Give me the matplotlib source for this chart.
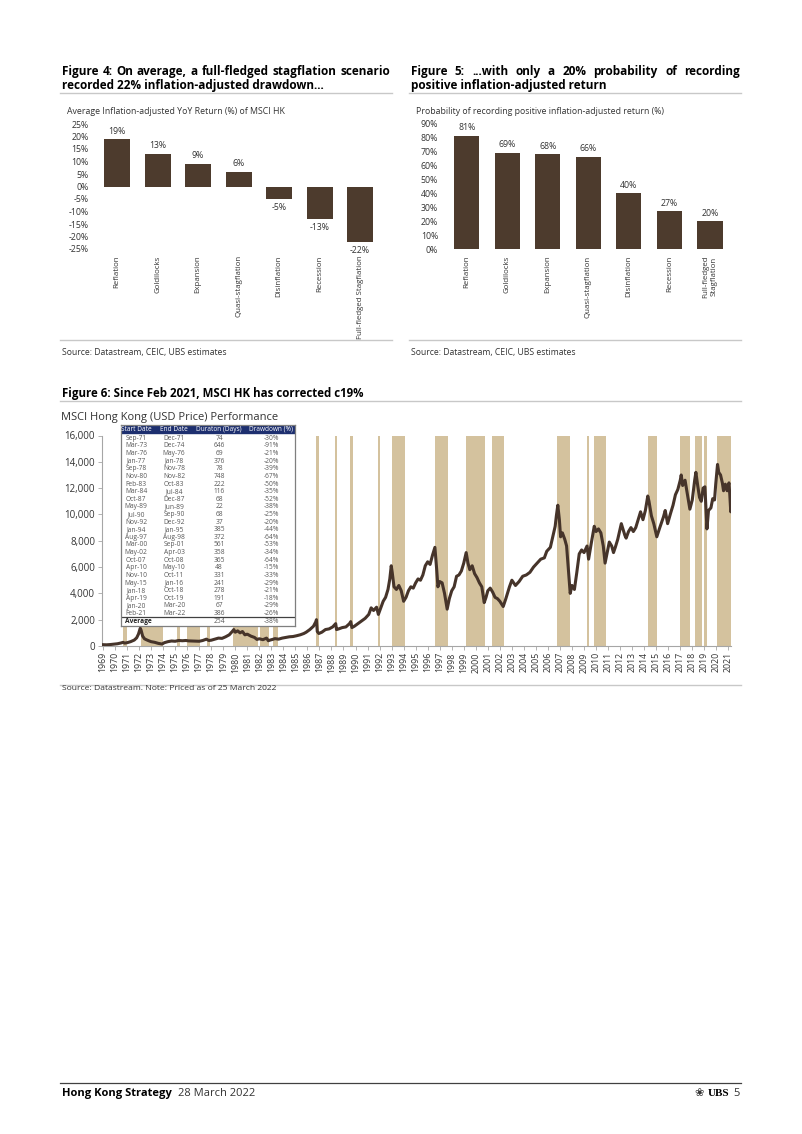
import numpy as np
import matplotlib.pyplot as plt
from matplotlib.patches import Rectangle
from matplotlib.lines import Line2D

plt.rcParams['font.family'] = ['Open Sans', 'DejaVu Sans']

# ---- data ----
scenarios = ['Reflation', 'Goldilocks', 'Expansion', 'Quasi-stagflation',
             'Disinflation', 'Recession', 'Full-fledged Stagflation']
scenarios_f5 = ['Reflation', 'Goldilocks', 'Expansion', 'Quasi-stagflation',
                'Disinflation', 'Recession', 'Full-fledged\nStagflation']
avg_return = [19, 13, 9, 6, -5, -13, -22]
prob_positive = [81, 69, 68, 66, 40, 27, 20]

dd_start = ['Sep-71', 'Mar-73', 'Mar-76', 'Jan-77', 'Sep-78', 'Nov-80', 'Feb-83',
            'Mar-84', 'Oct-87', 'May-89', 'Jul-90', 'Nov-92', 'Jan-94', 'Aug-97',
            'Mar-00', 'May-02', 'Oct-07', 'Apr-10', 'Nov-10', 'May-15', 'Jan-18',
            'Apr-19', 'Jan-20', 'Feb-21']
dd_end = ['Dec-71', 'Dec-74', 'May-76', 'Jan-78', 'Nov-78', 'Nov-82', 'Oct-83',
          'Jul-84', 'Dec-87', 'Jun-89', 'Sep-90', 'Dec-92', 'Jan-95', 'Aug-98',
          'Sep-01', 'Apr-03', 'Oct-08', 'May-10', 'Oct-11', 'Jan-16', 'Oct-18',
          'Oct-19', 'Mar-20', 'Mar-22']
dd_days = [74, 646, 69, 376, 78, 748, 222, 116, 68, 22, 68, 37, 385, 372,
           561, 358, 365, 48, 331, 241, 278, 191, 67, 386]
dd_pct = [-30, -91, -21, -20, -39, -67, -50, -35, -52, -38, -25, -20, -44, -64,
          -53, -34, -64, -15, -33, -29, -21, -18, -29, -26]
avg_days = 254
avg_pct = -38

year_pts = [1970.00, 1970.3, 1970.6, 1970.9, 1971.2, 1971.5, 1971.67, 1971.8, 1972.0,
            1972.3, 1972.6, 1972.8, 1972.95, 1973.1, 1973.17, 1973.3, 1973.45, 1973.6,
            1973.8, 1974.0, 1974.3, 1974.6, 1974.92, 1975.1, 1975.4, 1975.7, 1976.0,
            1976.3, 1976.6, 1976.9, 1977.1, 1977.4, 1977.7, 1978.0, 1978.3, 1978.6,
            1978.8, 1979.0, 1979.3, 1979.6, 1979.9, 1980.2, 1980.5, 1980.75, 1980.88,
            1981.0, 1981.2, 1981.4, 1981.6, 1981.8, 1982.0, 1982.3, 1982.6, 1982.8,
            1983.0, 1983.3, 1983.6, 1983.75, 1983.9, 1984.1, 1984.3, 1984.6, 1984.9,
            1985.2, 1985.5, 1985.8, 1986.1, 1986.4, 1986.7, 1986.9, 1987.2, 1987.5,
            1987.7, 1987.75, 1987.82, 1987.95, 1988.2, 1988.5, 1988.8, 1989.1, 1989.35,
            1989.42, 1989.6, 1989.9, 1990.2, 1990.5, 1990.6, 1990.7, 1990.9, 1991.2,
            1991.5, 1991.8, 1992.1, 1992.3, 1992.5, 1992.75, 1992.9, 1993.1, 1993.3,
            1993.5, 1993.7, 1993.85, 1993.97, 1994.05, 1994.2, 1994.4, 1994.6, 1994.8,
            1995.0, 1995.2, 1995.4, 1995.6, 1995.8, 1996.0, 1996.2, 1996.4, 1996.6,
            1996.8, 1997.0, 1997.2, 1997.4, 1997.6, 1997.75, 1997.85, 1998.0, 1998.2,
            1998.4, 1998.62, 1998.8, 1999.0, 1999.2, 1999.4, 1999.6, 1999.8, 2000.0,
            2000.2, 2000.35, 2000.5, 2000.7, 2000.9, 2001.1, 2001.3, 2001.5, 2001.7,
            2001.85, 2002.0, 2002.2, 2002.4, 2002.6, 2002.8, 2003.0, 2003.28, 2003.5,
            2003.8, 2004.0, 2004.3, 2004.6, 2004.9, 2005.2, 2005.5, 2005.8, 2006.1,
            2006.4, 2006.7, 2006.9, 2007.2, 2007.4, 2007.6, 2007.7, 2007.82, 2007.95,
            2008.05, 2008.2, 2008.4, 2008.55, 2008.7, 2008.85, 2009.0, 2009.2, 2009.4,
            2009.6, 2009.8, 2010.0, 2010.25, 2010.38, 2010.6, 2010.85, 2011.0, 2011.2,
            2011.4, 2011.6, 2011.75, 2011.9, 2012.1, 2012.3, 2012.45, 2012.6, 2012.8,
            2013.0, 2013.1, 2013.4, 2013.5, 2013.7, 2013.9, 2014.1, 2014.3, 2014.5,
            2014.7, 2014.9, 2015.1, 2015.3, 2015.4, 2015.6, 2015.8, 2016.05, 2016.3,
            2016.6, 2016.75, 2016.95, 2017.2, 2017.4, 2017.6, 2017.8, 2018.0, 2018.08,
            2018.2, 2018.4, 2018.6, 2018.8, 2019.0, 2019.2, 2019.3, 2019.45, 2019.6,
            2019.75, 2019.9, 2020.05, 2020.12, 2020.22, 2020.35, 2020.55, 2020.7,
            2020.85, 2020.95, 2021.1, 2021.2, 2021.35, 2021.5, 2021.6, 2021.75,
            2021.9, 2022.05, 2022.12, 2022.2, 2022.23]
price_pts = [100, 90, 110, 140, 170, 230, 280, 220, 250,
             330, 450, 620, 900, 1350, 1200, 750, 550, 480,
             400, 330, 280, 200, 150, 250, 330, 380, 360,
             420, 400, 420, 390, 380, 370, 360, 420, 520,
             420, 440, 520, 600, 580, 700, 850, 1100, 1250,
             1050, 1150, 1000, 1100, 850, 900, 750, 650, 500,
             550, 480, 600, 400, 450, 500, 560, 520, 600,
             650, 700, 720, 780, 850, 950, 1050, 1250, 1500,
             1850, 2000, 1100, 950, 1050, 1250, 1300, 1450, 1700,
             1250, 1300, 1400, 1450, 1700, 1850, 1400, 1500, 1700,
             1900, 2100, 2400, 2900, 2700, 2950, 2400, 2900, 3400,
             3700, 4300, 5100, 6100, 5600, 4500, 4300, 4600, 4200,
             3400, 3700, 4200, 4500, 4400, 4800, 5100, 5000, 5400,
             6100, 6400, 6200, 6900, 7500, 5800, 4500, 4900, 4800,
             4000, 2800, 3600, 4200, 4500, 5300, 5400, 5700, 6300,
             7100, 6300, 5800, 6100, 5500, 5200, 4800, 4500, 3300,
             3700, 4200, 4400, 4100, 3700, 3600, 3400, 3000, 3600,
             4500, 5000, 4600, 4900, 5300, 5400, 5600, 6000, 6300,
             6600, 6700, 7200, 7500, 8300, 9100, 9900, 10700, 9600,
             8300, 8600, 8100, 7600, 5800, 4000, 4600, 4300, 5600,
             7000, 7300, 7100, 7600, 6600, 7800, 9100, 8700, 8900,
             8600, 7600, 6300, 7000, 7900, 7600, 7100, 7500, 8100,
             8900, 9300, 8400, 8200, 8700, 9000, 8700, 9000, 9600,
             10200, 9600, 10300, 11400, 11000, 9900, 9300, 8300, 9000,
             9800, 10300, 9300, 10100, 10700, 11500, 11900, 12600, 13000,
             12200, 12600, 11500, 10400, 11100, 12600, 13200, 12200, 11300,
             11000, 12000, 12100, 10800, 8900, 10300, 10500, 11200,
             11100, 12300, 13800, 13200, 13000, 12400, 11800, 12300,
             11800, 12400, 11500, 10200, 10500]
years = list(range(1969, 2022))

BROWN = '#4d3b2d'
TAN = '#d4c29e'
NAVY = '#1d2f6f'
GREY = '#595959'
RULE = '#c8c8c8'

W, H = 802, 1134
fig = plt.figure(figsize=(8.02, 11.34), dpi=100)
renderer = fig.canvas.get_renderer()


def box(x0, y0, x1, y1):
    return [x0 / W, 1 - y1 / H, (x1 - x0) / W, (y1 - y0) / H]


def fx(x):
    return x / W


def fy(y):
    return 1 - y / H


def hrule(x0, x1, y, color=RULE, lw=1.0):
    fig.add_artist(Line2D([fx(x0), fx(x1)], [fy(y), fy(y)], color=color, lw=lw))


def justify(text, x0, x1, y, **kw):
    # spread the words of one line across the column like a justified paragraph
    words = text.split()
    arts = [fig.text(0, fy(y), w, va='center', ha='left', **kw) for w in words]
    widths = [a.get_window_extent(renderer).width for a in arts]
    gap = (x1 - x0 - sum(widths)) / (len(words) - 1)
    x = x0
    for a, w in zip(arts, widths):
        a.set_x(fx(x))
        x += w + gap


def month_to_year(s, end=False):
    mon = ['Jan', 'Feb', 'Mar', 'Apr', 'May', 'Jun', 'Jul', 'Aug', 'Sep', 'Oct', 'Nov', 'Dec']
    m, yy = s.split('-')
    yr = int(yy) + (1900 if int(yy) > 50 else 2000)
    return yr + (mon.index(m) + (1 if end else 0)) / 12


TFS = 8.5
# ---------- Figure 4 ----------
justify('Figure 4: On average, a full-fledged stagflation scenario', 62, 390, 71.5,
        fontsize=TFS, fontweight='bold', color='black')
fig.text(fx(62), fy(85.5), 'recorded 22% inflation-adjusted drawdown...', fontsize=TFS,
         fontweight='bold', va='center')
hrule(60, 392, 93)
fig.text(fx(67), fy(112), 'Average Inflation-adjusted YoY Return (%) of MSCI HK',
         fontsize=6.3, color='#333333', va='center')

ax4 = fig.add_axes(box(96.8, 124, 380.3, 249))
x = np.arange(len(scenarios))
ax4.bar(x, avg_return, width=0.64, color=BROWN)
ax4.set_xlim(-0.5, 6.5)
ax4.set_ylim(-25, 25)
ax4.set_yticks(range(-25, 26, 5))
ax4.set_yticklabels([f'{v}%' for v in range(-25, 26, 5)])
ax4.set_xticks(x)
ax4.set_xticklabels(scenarios, rotation=90, va='top', ha='center')
for i, v in enumerate(avg_return):
    off = 8 if v >= 0 else -9
    ax4.annotate(f'{v}%', (i, v), xytext=(0, off), textcoords='offset pixels',
                 ha='center', va='center', fontsize=6.3, color='#333333')

# ---------- Figure 5 ----------
justify('Figure 5: ...with only a 20% probability of recording', 411, 740, 71.5,
        fontsize=TFS, fontweight='bold', color='black')
fig.text(fx(411), fy(85.5), 'positive inflation-adjusted return', fontsize=TFS,
         fontweight='bold', va='center')
hrule(409, 741, 93)
fig.text(fx(416), fy(112), 'Probability of recording positive inflation-adjusted return (%)',
         fontsize=6.3, color='#333333', va='center')

ax5 = fig.add_axes(box(446.4, 123.3, 730.3, 249.3))
ax5.bar(x, prob_positive, width=0.62, color=BROWN)
ax5.set_xlim(-0.5, 6.5)
ax5.set_ylim(0, 90)
ax5.set_yticks(range(0, 91, 10))
ax5.set_yticklabels([f'{v}%' for v in range(0, 91, 10)])
ax5.set_xticks(x)
ax5.set_xticklabels(scenarios_f5, rotation=90, va='top', ha='center')
for i, v in enumerate(prob_positive):
    ax5.annotate(f'{v}%', (i, v), xytext=(0, 8), textcoords='offset pixels',
                 ha='center', va='center', fontsize=6.3, color='#333333')

for ax in (ax4, ax5):
    for s in ax.spines.values():
        s.set_visible(False)
    ax.tick_params(axis='both', length=0, labelsize=6.3, colors='#333333')
    ax.tick_params(axis='x', pad=4.5, labelsize=5.7)
    ax.tick_params(axis='y', pad=6)

hrule(60, 392, 340)
hrule(409, 741, 340)
fig.text(fx(62), fy(352), 'Source: Datastream, CEIC, UBS estimates', fontsize=6.2,
         color='#333333', va='center')
fig.text(fx(411), fy(352), 'Source: Datastream, CEIC, UBS estimates', fontsize=6.2,
         color='#333333', va='center')

# ---------- Figure 6 ----------
fig.text(fx(62), fy(393), 'Figure 6: Since Feb 2021, MSCI HK has corrected c19%',
         fontsize=8.3, fontweight='bold', va='center')
hrule(60, 741, 401)
fig.text(fx(61), fy(417.5), 'MSCI Hong Kong (USD Price) Performance', fontsize=8.0,
         color='#333333', va='center')

ax6 = fig.add_axes(box(102, 435.5, 731, 646))
for s, e in zip(dd_start, dd_end):
    ax6.axvspan(month_to_year(s), month_to_year(e, end=True), color=TAN, lw=0, zorder=1)
ax6.plot(year_pts, price_pts, color='#46342a', lw=2.2, zorder=3)
ax6.set_xlim(1969.92, 2022.22)
ax6.set_ylim(0, 16000)
ax6.set_yticks(range(0, 16001, 2000))
ax6.set_yticklabels([f'{v:,}' for v in range(0, 16001, 2000)])
ax6.set_xticks([y + 1 for y in years])
ax6.set_xticklabels([str(y) for y in years], rotation=90)
for side in ('top', 'right'):
    ax6.spines[side].set_visible(False)
for side in ('left', 'bottom'):
    ax6.spines[side].set_color('#a6a6a6')
    ax6.spines[side].set_linewidth(0.8)
ax6.tick_params(axis='both', length=3, width=0.6, color='#a6a6a6',
                labelsize=6.3, labelcolor='#333333')
ax6.tick_params(axis='y', labelsize=7.0, pad=2)
ax6.tick_params(axis='x', pad=1.5)

# drawdown table as an inset
tx0, ty0, tx1, ty1 = 121, 425, 295, 626
axt = fig.add_axes(box(tx0, ty0, tx1, ty1), zorder=5)
axt.set_xlim(tx0, tx1)
axt.set_ylim(ty1, ty0)
axt.set_xticks([])
axt.set_yticks([])
for s in axt.spines.values():
    s.set_color('#7f7f7f')
    s.set_linewidth(0.9)
axt.add_patch(Rectangle((tx0, ty0), tx1 - tx0, 8.0, color=NAVY, zorder=1))
cols = [136, 174, 219, 271]
heads = ['Start Date', 'End Date', 'Duraton (Days)', 'Drawdown (%)']
for cx, h in zip(cols, heads):
    axt.text(cx, ty0 + 4.1, h, ha='center', va='center', fontsize=4.7, color='white')
row_y = 438.3
step = 7.62
for i in range(len(dd_start)):
    yy = row_y + i * step
    vals = [dd_start[i], dd_end[i], str(dd_days[i]), f'{dd_pct[i]}%']
    for cx, v in zip(cols, vals):
        axt.text(cx, yy, v, ha='center', va='center', fontsize=4.8, color=GREY)
ya = row_y + len(dd_start) * step
axt.plot([tx0, tx1], [ya - 4.0, ya - 4.0], color='#404040', lw=0.9)
axt.text(tx0 + 4, ya, 'Average', ha='left', va='center', fontsize=4.8,
         fontweight='bold', color='#222222')
axt.text(cols[2], ya, str(avg_days), ha='center', va='center', fontsize=4.8, color=GREY)
axt.text(cols[3], ya, f'{avg_pct}%', ha='center', va='center', fontsize=4.8, color=GREY)

hrule(60, 741, 685)
fig.text(fx(62), fy(689), 'Source: Datastream. Note: Priced as of 25 March 2022',
         fontsize=6.1, color='#333333', va='center')

# ---------- footer ----------
hrule(60, 741, 1083, color='#404040', lw=0.9)
t1 = fig.text(fx(62), fy(1093.5), 'Hong Kong Strategy', fontsize=8.0, fontweight='bold',
              va='center')
w1 = t1.get_window_extent(renderer).width
fig.text(fx(62 + w1 + 6), fy(1093.5), '28 March 2022', fontsize=8.0, va='center',
         color='#333333')
fig.text(fx(740), fy(1093.5), '5', fontsize=8.0, va='center', ha='right', color='#333333')
fig.text(fx(729), fy(1093.5), 'UBS', fontsize=8.0, va='center', ha='right',
         fontweight='bold', family=['Liberation Serif', 'DejaVu Serif'])
fig.text(fx(704), fy(1093.5), '\u2740', fontsize=8.0, va='center', ha='right',
         family=['DejaVu Sans'], color='#333333')

fig.savefig('out.png', dpi=100)
